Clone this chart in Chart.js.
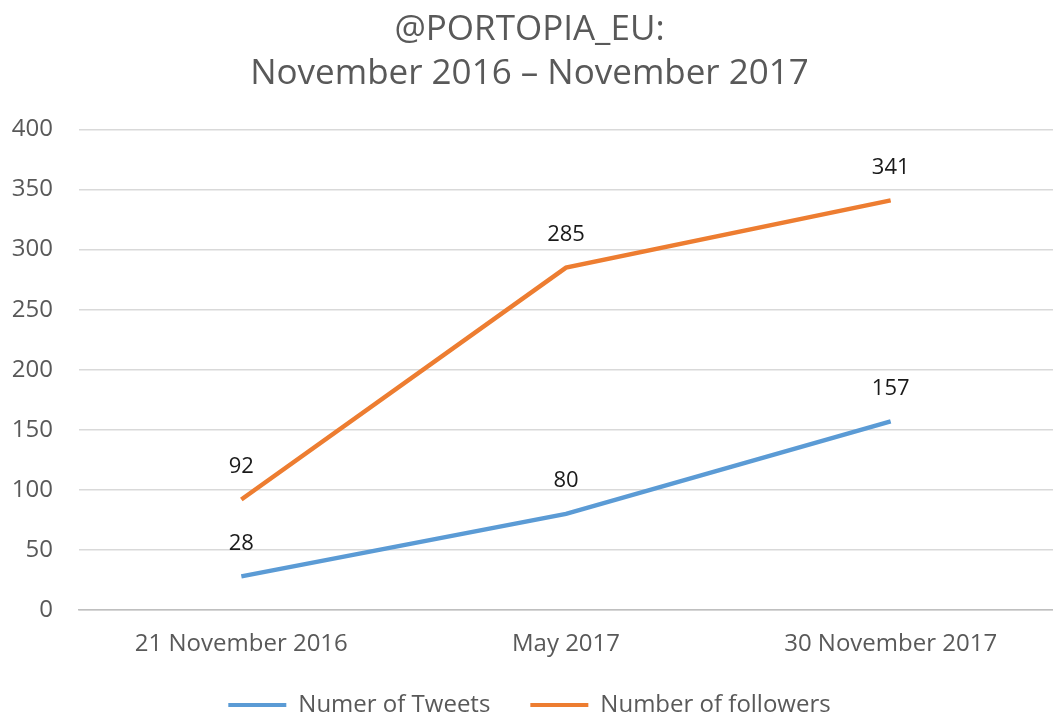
<!DOCTYPE html>
<html>
<head>
<meta charset="utf-8">
<script src="https://cdn.jsdelivr.net/npm/chart.js@4.4.0/dist/chart.umd.min.js"></script>
<style>
  html, body { margin: 0; padding: 0; background: #fff; }
  #wrap { width: 1053px; height: 720px; }
</style>
</head>
<body>
<div id="wrap"><canvas id="chart" width="1053" height="720"></canvas></div>
<script>
// Donnees
const categories = ['21 November 2016', 'May 2017', '30 November 2017']
const tweets = [28, 80, 157]
const followers = [92, 285, 341]
const yTicks = [0, 50, 100, 150, 200, 250, 300, 350, 400]

const FONT = "'Open Sans', 'Liberation Sans', sans-serif"
const GREY = '#595959'
const LEGEND_PAD = 40

// Etiquettes de valeur au-dessus des points
const valueLabels = {
    id: 'valueLabels',
    afterDatasetsDraw(chart) {
        const ctx = chart.ctx
        ctx.save()
        ctx.font = '22px ' + FONT
        ctx.fillStyle = '#1a1a1a'
        ctx.textAlign = 'center'
        ctx.textBaseline = 'middle'
        chart.data.datasets.forEach((ds, i) => {
            chart.getDatasetMeta(i).data.forEach((pt, j) => {
                ctx.fillText(String(ds.data[j]), pt.x, pt.y - 33)
            })
        })
        ctx.restore()
    }
}

// Remonter la legende (le padding sert surtout a espacer les items)
const liftLegend = {
    id: 'liftLegend',
    afterLayout(chart) {
        if (chart.legend) {
            chart.legend.top -= 20
            chart.legend.bottom -= 20
        }
    }
}

new Chart(document.getElementById('chart'), {
    type: 'line',
    data: {
        labels: categories,
        datasets: [
            {
                label: 'Numer of Tweets',
                data: tweets,
                borderColor: '#5B9BD5',
                backgroundColor: '#5B9BD5',
                borderWidth: 4.5,
                pointRadius: 0,
                tension: 0
            },
            {
                label: 'Number of followers',
                data: followers,
                borderColor: '#ED7D31',
                backgroundColor: '#ED7D31',
                borderWidth: 4.5,
                pointRadius: 0,
                tension: 0
            }
        ]
    },
    options: {
        responsive: false,
        animation: false,
        layout: { padding: { left: 0, right: -6, top: 0, bottom: -27 } },
        plugins: {
            title: {
                display: true,
                text: ['@PORTOPIA_EU:', 'November 2016 \u2013 November 2017'],
                color: GREY,
                font: { family: FONT, size: 35, weight: 'normal', lineHeight: 1.25 },
                padding: { top: 8, bottom: 34 }
            },
            legend: {
                position: 'bottom',
                labels: {
                    color: GREY,
                    font: { family: FONT, size: 24 },
                    boxWidth: 58,
                    boxHeight: 4,
                    padding: LEGEND_PAD,
                    generateLabels(chart) {
                        const items = Chart.defaults.plugins.legend.labels.generateLabels(chart)
                        items.forEach(it => { it.lineWidth = 0; it.fillStyle = it.strokeStyle })
                        return items
                    }
                }
            },
            tooltip: { enabled: false }
        },
        scales: {
            x: {
                offset: true,
                grid: { display: false, drawTicks: false },
                border: { display: true, color: '#bfbfbf', width: 1.5 },
                ticks: { color: GREY, font: { family: FONT, size: 24 }, padding: 20, maxRotation: 0 },
                afterFit(scale) { scale.height = 63 }
            },
            y: {
                min: 0,
                max: 400,
                afterBuildTicks(scale) { scale.ticks = yTicks.map(v => ({ value: v })) },
                grid: { color: '#d9d9d9', lineWidth: 1.5, drawTicks: false },
                border: { display: false },
                ticks: { color: GREY, font: { family: FONT, size: 24 }, padding: 26 },
                afterFit(scale) { scale.width = 79 }
            }
        }
    },
    plugins: [valueLabels, liftLegend]
})
</script>
</body>
</html>
